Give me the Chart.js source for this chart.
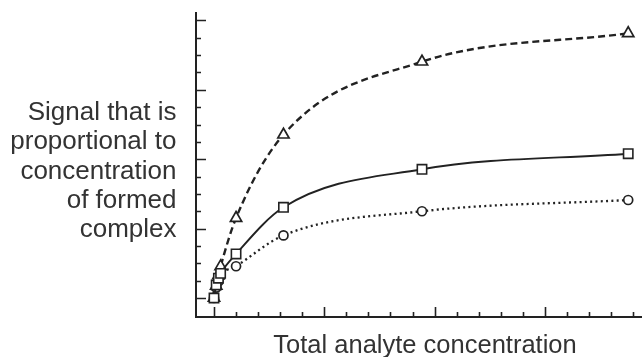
<!DOCTYPE html>
<html><head><meta charset="utf-8">
<script src="https://cdn.jsdelivr.net/npm/chart.js@4.4.0/dist/chart.umd.min.js"></script>
<style>html,body{margin:0;padding:0;background:#fff;}#wrap{width:643px;height:357px;position:relative;}</style>
</head><body><div id="wrap"><canvas id="c" width="643" height="357"></canvas></div>
<script>
// ---- data (arbitrary units) ----
const concentration = [0, 0.1, 0.2, 0.3, 1.0, 3.15, 9.43, 18.78];
const squareSignal = [0, 0.75, 1.14, 1.42, 2.54, 5.23, 7.42, 8.32];
const triangleSignal = [0, 0.7, 1.3, 1.82, 4.61, 9.41, 13.62, 15.26];
const circleSignal = [0, 0.6, 0.95, 1.27, 1.83, 3.61, 5.0, 5.65];
const xTickValues = [0,1,2,3,4,5,6,7,8,9,10,11,12,13,14,15,16,17,18,19];
const xMajorTicks = [0,5,10,15];
const yTickValues = [0,1,2,3,4,5,6,7,8,9,10,11,12,13,14,15,16];
const yMajorTicks = [0,4,8,12,16];
const yTitleLines = ["Signal that is", "proportional to", "concentration", "of formed", "complex"];
const xTitle = "Total analyte concentration";

const INK = '#222';
const TEXT = '#333';
const YFONT = '26px "Liberation Sans", Arial, sans-serif';
const XFONT = '25.5px "Liberation Sans", Arial, sans-serif';

function pts(ys){ return concentration.map((x,i)=>({x:x, y:ys[i]})); }

const innerTicks = {
  id: 'innerTicks',
  beforeDatasetsDraw(chart){
    const ctx = chart.ctx, xs = chart.scales.x, ys = chart.scales.y;
    const ca = chart.chartArea;
    ctx.save();
    ctx.strokeStyle = INK;
    ctx.lineWidth = 1.6;
    ctx.beginPath();
    xTickValues.forEach(v=>{
      const px = Math.round(xs.getPixelForValue(v)) + 0.5;
      const len = xMajorTicks.includes(v) ? 10 : 5;
      ctx.moveTo(px, ca.bottom); ctx.lineTo(px, ca.bottom - len);
    });
    yTickValues.forEach(v=>{
      const py = Math.round(ys.getPixelForValue(v)) + 0.5;
      const len = yMajorTicks.includes(v) ? 10 : 5;
      ctx.moveTo(ca.left, py); ctx.lineTo(ca.left + len, py);
    });
    ctx.stroke();
    ctx.restore();
  },
  afterDraw(chart){
    const ctx = chart.ctx, ca = chart.chartArea;
    ctx.save();
    ctx.fillStyle = TEXT;
    ctx.font = YFONT;
    ctx.textAlign = 'right';
    ctx.textBaseline = 'alphabetic';
    yTitleLines.forEach((t,i)=>{ ctx.fillText(t, ca.left - 19.5, 120 + 29.25*i); });
    ctx.font = XFONT;
    ctx.textAlign = 'center';
    ctx.fillText(xTitle, 425, 353);
    ctx.restore();
  }
};

new Chart(document.getElementById('c'), {
  type: 'line',
  data: {
    datasets: [
      { label: 'square', data: pts(squareSignal), borderColor: INK, borderWidth: 1.9,
        pointStyle: 'rect', pointRadius: 6.6, pointBorderWidth: 1.6, pointBackgroundColor: '#fff', pointBorderColor: INK,
        cubicInterpolationMode: 'monotone', fill: false },
      { label: 'triangle', data: pts(triangleSignal), borderColor: INK, borderWidth: 2.4, borderDash: [7,4],
        pointStyle: 'triangle', pointRadius: 6.5, pointBorderWidth: 1.7, pointBackgroundColor: '#fff', pointBorderColor: INK,
        cubicInterpolationMode: 'monotone', fill: false },
      { label: 'circle', data: pts(circleSignal), borderColor: INK, borderWidth: 2.3, borderDash: [2,3.3],
        pointStyle: 'circle', pointRadius: 4.5, pointBorderWidth: 1.7, pointBackgroundColor: '#fff', pointBorderColor: INK,
        cubicInterpolationMode: 'monotone', fill: false }
    ]
  },
  options: {
    responsive: false,
    animation: false,
    devicePixelRatio: 1,
    layout: { autoPadding: false, padding: { left: 196, right: 2, top: 13, bottom: 40 } },
    plugins: { legend: { display: false }, tooltip: { enabled: false } },
    scales: {
      x: { type: 'linear', min: -0.816, max: 19.36,
        grid: { display: true, drawOnChartArea: false, drawTicks: false },
        border: { display: true, color: INK, width: 2 },
        ticks: { display: false } },
      y: { type: 'linear', min: -1.095, max: 16.43,
        grid: { display: true, drawOnChartArea: false, drawTicks: false },
        border: { display: true, color: INK, width: 2 },
        ticks: { display: false } }
    }
  },
  plugins: [innerTicks]
});
</script>
</body></html>
